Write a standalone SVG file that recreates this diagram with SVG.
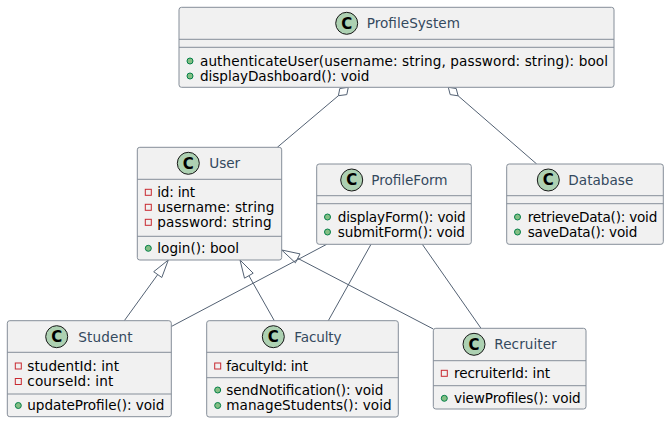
<svg xmlns="http://www.w3.org/2000/svg" width="669" height="423" viewBox="0 0 669 423">
<style>
.box{fill:#F1F1F1;stroke:#858E99;stroke-width:1}
.sep{stroke:#858E99;stroke-width:1}
.ci{fill:#ADD1B2;stroke:#181818;stroke-width:1}
.cl{font-family:"DejaVu Sans",sans-serif;font-size:15px;font-weight:bold;fill:#000;text-anchor:middle}
.nm{font-family:"DejaVu Sans",sans-serif;font-size:13.6px;fill:#34495E}
.mb{font-family:"DejaVu Sans",sans-serif;font-size:13.6px;fill:#000}
.pub{fill:#84BE84;stroke:#038048;stroke-width:1}
.prv{fill:none;stroke:#C82930;stroke-width:1}
.ln{stroke:#536173;stroke-width:1;fill:none}
.hd{stroke:#536173;stroke-width:1;fill:#FFFFFF}
</style>
<rect width="669" height="423" fill="#FFFFFF"/>
<g id="connectors">
<line class="ln" x1="338.4" y1="95.7" x2="277.3" y2="147.3"/>
<polygon class="hd" points="348.3,87.3 346.8,94.6 338.4,95.7 339.8,88.5"/>
<line class="ln" x1="458.1" y1="95.8" x2="536.7" y2="164"/>
<polygon class="hd" points="448.3,87.3 456.2,88.5 458.1,95.8 450.2,94.6"/>
<line class="ln" x1="157.7" y1="274.6" x2="124.3" y2="320.7"/>
<polygon class="hd" points="168.3,260 161.8,277.5 153.7,271.7"/>
<line class="ln" x1="248.9" y1="275.7" x2="274.3" y2="320.7"/>
<polygon class="hd" points="240,260 253.2,273.2 244.5,278.2"/>
<line class="ln" x1="297.7" y1="258.3" x2="433.3" y2="329"/>
<polygon class="hd" points="281.7,250 300,253.9 295.4,262.8"/>
<line class="ln" x1="326.7" y1="244.3" x2="171.3" y2="326.5"/>
<line class="ln" x1="371" y1="244.3" x2="328.3" y2="320.7"/>
<line class="ln" x1="422.3" y1="244.3" x2="481" y2="328.3"/>
</g>
<g id="ProfileSystem">
<rect class="box" x="179" y="7.3" width="435" height="80" rx="2.5"/>
<line class="sep" x1="179" y1="39.3" x2="614" y2="39.3"/>
<line class="sep" x1="179" y1="47.3" x2="614" y2="47.3"/>
<circle class="ci" cx="346.7" cy="23.3" r="11"/>
<text class="cl" x="346.7" y="28.6">C</text>
<text class="nm" x="366.7" y="28.3" textLength="93.3">ProfileSystem</text>
<circle class="pub" cx="190" cy="61" r="3"/>
<text class="mb" x="200" y="65.5" textLength="408">authenticateUser(username: string, password: string): bool</text>
<circle class="pub" cx="190" cy="76" r="3"/>
<text class="mb" x="200" y="80.5" textLength="169.3">displayDashboard(): void</text>
</g>
<g id="User">
<rect class="box" x="137.3" y="147.3" width="144.4" height="112.7" rx="2.5"/>
<line class="sep" x1="137.3" y1="179.3" x2="281.7" y2="179.3"/>
<line class="sep" x1="137.3" y1="236.3" x2="281.7" y2="236.3"/>
<circle class="ci" cx="188.3" cy="163.3" r="11"/>
<text class="cl" x="188.3" y="168.6">C</text>
<text class="nm" x="209.3" y="168.3" textLength="30.7">User</text>
<rect class="prv" x="145.3" y="189.3" width="6" height="6"/>
<text class="mb" x="157.3" y="196.8" textLength="37.7">id: int</text>
<rect class="prv" x="145.3" y="204.3" width="6" height="6"/>
<text class="mb" x="157.3" y="211.8" textLength="117">username: string</text>
<rect class="prv" x="145.3" y="219.3" width="6" height="6"/>
<text class="mb" x="157.3" y="226.8" textLength="114.3">password: string</text>
<circle class="pub" cx="148.3" cy="248.3" r="3"/>
<text class="mb" x="157.3" y="252.8" textLength="81.7">login(): bool</text>
</g>
<g id="ProfileForm">
<rect class="box" x="316.7" y="164" width="154.6" height="80.3" rx="2.5"/>
<line class="sep" x1="316.7" y1="195.7" x2="471.3" y2="195.7"/>
<line class="sep" x1="316.7" y1="203.7" x2="471.3" y2="203.7"/>
<circle class="ci" cx="351.7" cy="180" r="11"/>
<text class="cl" x="351.7" y="185.3">C</text>
<text class="nm" x="371.2" y="185" textLength="76.3">ProfileForm</text>
<circle class="pub" cx="327.5" cy="217" r="3"/>
<text class="mb" x="337.7" y="221.5" textLength="128">displayForm(): void</text>
<circle class="pub" cx="327.5" cy="232" r="3"/>
<text class="mb" x="337.7" y="236.5" textLength="127.3">submitForm(): void</text>
</g>
<g id="Database">
<rect class="box" x="506.7" y="164" width="156.6" height="80.3" rx="2.5"/>
<line class="sep" x1="506.7" y1="195.7" x2="663.3" y2="195.7"/>
<line class="sep" x1="506.7" y1="203.7" x2="663.3" y2="203.7"/>
<circle class="ci" cx="548.3" cy="180" r="11"/>
<text class="cl" x="548.3" y="185.3">C</text>
<text class="nm" x="568.3" y="185" textLength="65">Database</text>
<circle class="pub" cx="517.5" cy="217" r="3"/>
<text class="mb" x="527.7" y="221.5" textLength="129.6">retrieveData(): void</text>
<circle class="pub" cx="517.5" cy="232" r="3"/>
<text class="mb" x="527.7" y="236.5" textLength="109.6">saveData(): void</text>
</g>
<g id="Student">
<rect class="box" x="7.3" y="320.7" width="164" height="96" rx="2.5"/>
<line class="sep" x1="7.3" y1="352.3" x2="171.3" y2="352.3"/>
<line class="sep" x1="7.3" y1="394" x2="171.3" y2="394"/>
<circle class="ci" cx="56.7" cy="336.7" r="11"/>
<text class="cl" x="56.7" y="342">C</text>
<text class="nm" x="78.3" y="341.7" textLength="54.3">Student</text>
<rect class="prv" x="15.3" y="363" width="6" height="6"/>
<text class="mb" x="27.3" y="370.5" textLength="91.7">studentId: int</text>
<rect class="prv" x="15.3" y="378.5" width="6" height="6"/>
<text class="mb" x="27.3" y="386" textLength="86">courseId: int</text>
<circle class="pub" cx="18.3" cy="405.5" r="3"/>
<text class="mb" x="27.3" y="410" textLength="137">updateProfile(): void</text>
</g>
<g id="Faculty">
<rect class="box" x="206.7" y="320.7" width="191.6" height="96.3" rx="2.5"/>
<line class="sep" x1="206.7" y1="352.3" x2="398.3" y2="352.3"/>
<line class="sep" x1="206.7" y1="377.7" x2="398.3" y2="377.7"/>
<circle class="ci" cx="273.3" cy="336.7" r="11"/>
<text class="cl" x="273.3" y="342">C</text>
<text class="nm" x="294.3" y="341.7" textLength="47.3">Faculty</text>
<rect class="prv" x="214.7" y="363" width="6" height="6"/>
<text class="mb" x="226.3" y="370.5" textLength="81.7">facultyId: int</text>
<circle class="pub" cx="217.7" cy="390" r="3"/>
<text class="mb" x="226.3" y="394.5" textLength="157">sendNotification(): void</text>
<circle class="pub" cx="217.7" cy="405.5" r="3"/>
<text class="mb" x="226.3" y="410" textLength="165.3">manageStudents(): void</text>
</g>
<g id="Recruiter">
<rect class="box" x="433.3" y="328.3" width="152.7" height="80.7" rx="2.5"/>
<line class="sep" x1="433.3" y1="360.7" x2="586" y2="360.7"/>
<line class="sep" x1="433.3" y1="385.7" x2="586" y2="385.7"/>
<circle class="ci" cx="474" cy="344.3" r="11"/>
<text class="cl" x="474" y="349.6">C</text>
<text class="nm" x="494.3" y="349.3" textLength="62.4">Recruiter</text>
<rect class="prv" x="441.3" y="370.3" width="6" height="6"/>
<text class="mb" x="454" y="377.8" textLength="96">recruiterId: int</text>
<circle class="pub" cx="444.3" cy="398.3" r="3"/>
<text class="mb" x="454" y="402.8" textLength="126.7">viewProfiles(): void</text>
</g>
</svg>
